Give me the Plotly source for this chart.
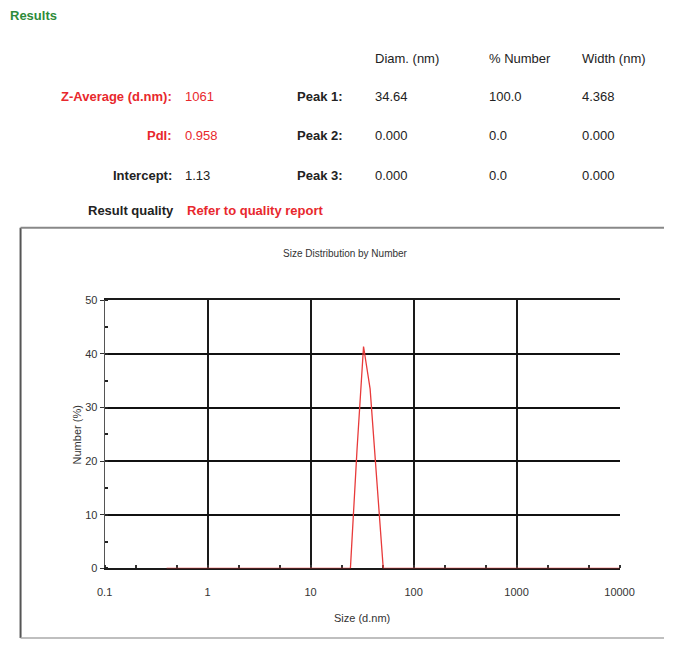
import plotly.graph_objects as go

# ---- data ----
size_bins = [0.4, 0.4632, 0.5365, 0.6213, 0.7195, 0.8332, 0.9649, 1.117, 1.294, 1.499,
             1.736, 2.010, 2.328, 2.696, 3.122, 3.615, 4.187, 4.849, 5.615, 6.503,
             7.531, 8.721, 10.10, 11.70, 13.54, 15.69, 18.17, 21.04, 24.36, 28.21,
             32.67, 37.84, 43.82, 50.75, 58.77, 68.06, 78.82, 91.28, 105.7, 122.4,
             141.8, 164.2, 190.1, 220.2, 255.0, 295.3, 342.0, 396.1, 458.7, 531.2,
             615.1, 712.4, 825.0, 955.4, 1106, 1281, 1484, 1718, 1990, 2305,
             2669, 3091, 3580, 4145, 4801, 5560, 6439, 7456, 8635, 10000]
number_pct = [0, 0, 0, 0, 0, 0, 0, 0, 0, 0,
              0, 0, 0, 0, 0, 0, 0, 0, 0, 0,
              0, 0, 0, 0, 0, 0, 0, 0, 0, 22.0,
              41.4, 33.5, 16.5, 0, 0, 0, 0, 0, 0, 0,
              0, 0, 0, 0, 0, 0, 0, 0, 0, 0,
              0, 0, 0, 0, 0, 0, 0, 0, 0, 0,
              0, 0, 0, 0, 0, 0, 0, 0, 0, 0]

x_tick_vals = [0.1, 1, 10, 100, 1000, 10000]
x_tick_text = ["0.1", "1", "10", "100", "1000", "10000"]
y_tick_vals = [0, 10, 20, 30, 40, 50]

summary_labels = ["Z-Average (d.nm):", "PdI:", "Intercept:"]
summary_values = ["1061", "0.958", "1.13"]
summary_colors = ["#e8282d", "#e8282d", "#222222"]
peak_labels = ["Peak 1:", "Peak 2:", "Peak 3:"]
peak_headers = ["Diam. (nm)", "% Number", "Width (nm)"]
peak_diam = ["34.64", "0.000", "0.000"]
peak_number = ["100.0", "0.0", "0.0"]
peak_width = ["4.368", "0.000", "0.000"]

# The page body keeps its default 8px margin, so the figure is sized to fit
# inside the 695x661 window exactly; page coordinates are converted below.
PAGE_W, PAGE_H, BODY_M = 695, 661, 8
W, H = PAGE_W - 2 * BODY_M, PAGE_H - 2 * BODY_M
def px(x):
    return (x - BODY_M) / W
def py(y):
    return 1 - (y - BODY_M) / H

FONT = "Liberation Sans, Arial, sans-serif"

fig = go.Figure()
fig.add_trace(go.Scatter(x=size_bins, y=number_pct, mode="lines",
                         line=dict(color="#e83a3a", width=1.3), showlegend=False,
                         hoverinfo="x+y"))

fig.update_layout(
    width=W, height=H, margin=dict(l=0, r=0, t=0, b=0),
    paper_bgcolor="white", plot_bgcolor="white",
    font=dict(family=FONT, color="#222"),
    xaxis=dict(type="log", domain=[px(108), px(641)], range=[-1, 4],
               tickvals=x_tick_vals, ticktext=x_tick_text,
               showgrid=True, gridcolor="#1a1a1a", gridwidth=1.5,
               zeroline=False, showline=True, linecolor="#1a1a1a", linewidth=2,
               ticks="", tickfont=dict(size=11, color="#333"),
               ticklabelstandoff=12, mirror=True, layer="below traces",
               minor=dict(ticks="inside", ticklen=3, tickwidth=1.5, tickcolor="#333",
                          showgrid=False)),
    yaxis=dict(domain=[py(581), py(308)], range=[0, 50],
               tickvals=y_tick_vals,
               showgrid=True, gridcolor="#111", gridwidth=2,
               zeroline=False, showline=True, linecolor="#555", linewidth=1,
               ticks="outside", ticklen=4, tickcolor="#333",
               tickfont=dict(size=11, color="#333"), layer="below traces",
               minor=dict(dtick=5, ticks="inside", ticklen=3, tickwidth=2,
                          tickcolor="#222", showgrid=False)),
)

ann = []
def text(x, y, s, size=13, color="#222", bold=False, xanchor="left", angle=0):
    ann.append(dict(x=px(x), y=py(y), xref="paper", yref="paper",
                    text=f"<b>{s}</b>" if bold else s, showarrow=False,
                    xanchor=xanchor, yanchor="middle", textangle=angle,
                    font=dict(family=FONT, size=size, color=color)))

text(8, 18, "Results", size=13, color="#2e8b3a", bold=True)
for hdr, x in zip(peak_headers, [386, 504, 600]):
    text(x, 62, hdr, size=13)
rows_y = [100, 140, 181]
for i, y in enumerate(rows_y):
    text(180, y, summary_labels[i], size=13, color=summary_colors[i], bold=True, xanchor="right")
    text(189, y, summary_values[i], size=13, color=summary_colors[i])
    text(357, y, peak_labels[i], size=13, bold=True, xanchor="right")
    text(386, y, peak_diam[i], size=13)
    text(504, y, peak_number[i], size=13)
    text(600, y, peak_width[i], size=13)
text(182, 216, "Result quality", size=13, bold=True, xanchor="right")
text(191, 216, "Refer to quality report", size=13, color="#e8282d", bold=True)

text(357, 260, "Size Distribution by Number", size=10, color="#333", xanchor="center")
text(79, 445, "Number (%)", size=11, color="#333", xanchor="center", angle=-90)
text(374, 632, "Size (d.nm)", size=11, color="#333", xanchor="center")

fig.update_layout(annotations=ann)

# report frame
fig.add_shape(type="line", xref="paper", yref="paper", x0=px(21), x1=px(21),
              y0=py(234), y1=py(652), line=dict(color="#555", width=2))
fig.add_shape(type="line", xref="paper", yref="paper", x0=px(21), x1=1.0,
              y0=py(234), y1=py(234), line=dict(color="#888", width=2))
fig.add_shape(type="line", xref="paper", yref="paper", x0=px(21), x1=1.0,
              y0=py(652), y1=py(652), line=dict(color="#aaa", width=1.5))

fig.write_html("out.html")
